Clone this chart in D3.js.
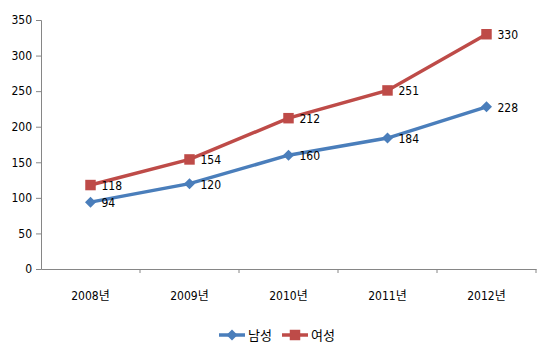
<!DOCTYPE html>
<html lang="ko">
<head>
<meta charset="utf-8">
<script src="https://cdn.jsdelivr.net/npm/d3@7/dist/d3.min.js"></script>
<style>
  body { margin: 0; background: #fff; }
  text { font-family: "DejaVu Sans Condensed", "DejaVu Sans", "Noto Sans CJK KR", sans-serif; font-size: 12px; fill: #000; }
</style>
</head>
<body>
<script>
var years = ["2008년", "2009년", "2010년", "2011년", "2012년"];
var male = [94, 120, 160, 184, 228];
var female = [118, 154, 212, 251, 330];
var yTicks = [0, 50, 100, 150, 200, 250, 300, 350];
var seriesNames = ["남성", "여성"];

var w = 550, h = 362;
var plot = { left: 41, right: 536, top: 20, bottom: 269 };

var svg = d3.select("body").append("svg").attr("width", w).attr("height", h);

var x = d3.scaleBand().domain(years).range([plot.left, plot.right]);
var y = d3.scaleLinear().domain([0, 350]).range([plot.bottom, plot.top]);

// y axis
var yAxis = svg.append("g")
  .attr("transform", "translate(" + plot.left + ",0)")
  .call(d3.axisLeft(y).tickValues(yTicks).tickSize(5).tickPadding(4));
yAxis.selectAll("line, path").attr("stroke", "#868686");
yAxis.selectAll("text").style("font-size", "12px");

// x axis
var xAxis = svg.append("g")
  .attr("transform", "translate(0," + plot.bottom + ")")
  .call(d3.axisBottom(x).tickSize(0).tickPadding(22));
xAxis.select("path").attr("stroke", "#868686");
xAxis.selectAll("text").style("font-size", "12px");
xAxis.selectAll("line.bound")
  .data(years.map(function(d) { return x(d) + x.bandwidth(); }))
  .enter().append("line")
  .attr("class", "bound")
  .attr("x1", function(d) { return d; }).attr("x2", function(d) { return d; })
  .attr("y1", 0).attr("y2", 4).attr("stroke", "#868686");

var diamond = { draw: function(ctx, size) {
  var r = Math.sqrt(size) / 2 * 1.1;
  ctx.moveTo(0, -r); ctx.lineTo(r, 0); ctx.lineTo(0, r); ctx.lineTo(-r, 0); ctx.closePath();
} };

var series = [
  { name: seriesNames[0], values: male, color: "#4A7EBB", shape: diamond, size: 100 },
  { name: seriesNames[1], values: female, color: "#BE4B48", shape: d3.symbolSquare, size: 110 }
];

var line = d3.line()
  .x(function(d, i) { return x(years[i]) + x.bandwidth() / 2; })
  .y(function(d) { return y(d); });

series.forEach(function(s) {
  svg.append("path").datum(s.values)
    .attr("d", line).attr("fill", "none")
    .attr("stroke", s.color).attr("stroke-width", 3.5);
  svg.selectAll(null).data(s.values).enter().append("path")
    .attr("d", d3.symbol().type(s.shape).size(s.size))
    .attr("transform", function(d, i) {
      return "translate(" + (x(years[i]) + x.bandwidth() / 2) + "," + y(d) + ")";
    })
    .attr("fill", s.color);
  svg.selectAll(null).data(s.values).enter().append("text")
    .attr("x", function(d, i) { return x(years[i]) + x.bandwidth() / 2 + 11; })
    .attr("y", function(d) { return y(d) + 5; })
    .text(function(d) { return d; });
});

// legend
var legendX = [219, 282];
series.forEach(function(s, i) {
  var g = svg.append("g").attr("transform", "translate(" + legendX[i] + ",335)");
  g.append("line").attr("x1", 0).attr("x2", 26).attr("y1", 0).attr("y2", 0)
    .attr("stroke", s.color).attr("stroke-width", 3.5);
  g.append("path").attr("d", d3.symbol().type(s.shape).size(s.size))
    .attr("transform", "translate(13,0)").attr("fill", s.color);
  g.append("text").attr("x", 29).attr("y", 5).style("font-size", "13px").text(s.name);
});
</script>
</body>
</html>
